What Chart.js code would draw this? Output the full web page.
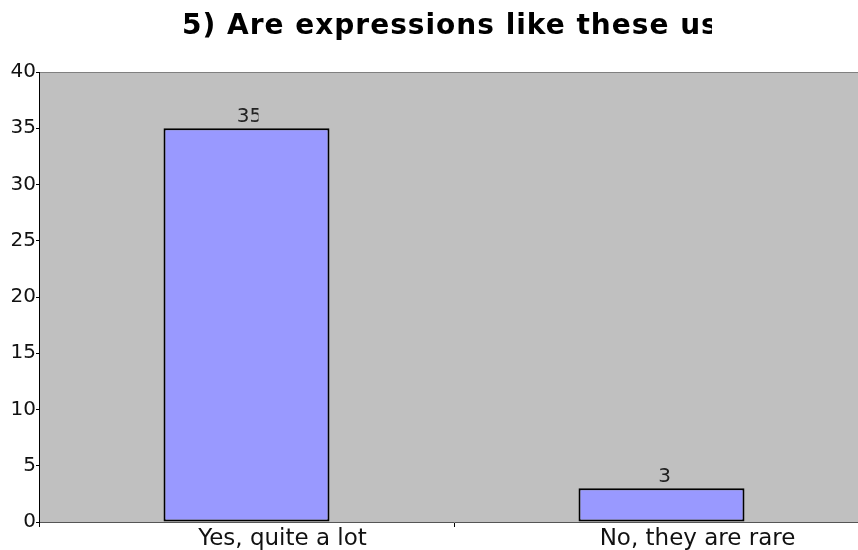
<!DOCTYPE html>
<html>
<head>
<meta charset="utf-8">
<script src="https://cdn.jsdelivr.net/npm/chart.js@4"></script>
<style>
  html, body { margin: 0; padding: 0; background: #fff; overflow: hidden; }
  #wrap { width: 870px; height: 550px; }
</style>
</head>
<body>
<div id="wrap"><canvas id="chart"></canvas></div>
<script>
const TITLE      = "5) Are expressions like these us";
const categories = ["Yes, quite a lot", "No, they are rare"];
const answers    = [35, 3];
const yTicks     = [0, 5, 10, 15, 20, 25, 30, 35, 40];

const FONT = "'DejaVu Sans', Verdana, sans-serif";

// grey plot backdrop, clipped title and value labels
const frame = {
  id: "frame",
  beforeDraw(c) {
    const { ctx, chartArea: a } = c;
    ctx.save();
    ctx.fillStyle = "#c0c0c0";
    ctx.fillRect(a.left, a.top, a.right - a.left, a.bottom - a.top);
    ctx.strokeStyle = "#808080";
    ctx.lineWidth = 1;
    ctx.beginPath();
    ctx.moveTo(a.left, a.top + 0.5);
    ctx.lineTo(a.right, a.top + 0.5);
    ctx.stroke();

    ctx.beginPath();
    ctx.rect(0, 0, 712, 60);
    ctx.clip();
    ctx.fillStyle = "#000";
    ctx.font = "bold 28px " + FONT;
    ctx.letterSpacing = "1px";
    ctx.textBaseline = "alphabetic";
    ctx.textAlign = "left";
    ctx.fillText(TITLE, 182, 34);
    ctx.restore();
  },
  afterDatasetsDraw(c) {
    const { ctx } = c;
    const meta = c.getDatasetMeta(0);
    meta.data.forEach((bar, i) => {
      ctx.save();
      ctx.beginPath();
      ctx.rect(bar.x - 40, bar.y - 30, 52, 30);
      ctx.clip();
      ctx.font = "20px " + FONT;
      ctx.fillStyle = "#222";
      ctx.textAlign = "center";
      ctx.textBaseline = "alphabetic";
      ctx.fillText(String(answers[i]), bar.x + 3, bar.y - 6);
      ctx.restore();
    });
  }
};

new Chart(document.getElementById("chart"), {
  type: "bar",
  data: {
    labels: categories,
    datasets: [{
      data: answers,
      backgroundColor: "#9999ff",
      borderColor: "#000",
      borderWidth: 2,
      borderSkipped: false,
      categoryPercentage: 1,
      barPercentage: 0.4
    }]
  },
  options: {
    responsive: true,
    maintainAspectRatio: false,
    animation: false,
    layout: { padding: { top: 72, left: 0, right: 1, bottom: 0 } },
    plugins: { legend: { display: false }, tooltip: { enabled: false } },
    scales: {
      x: {
        offset: true,
        afterFit(s) { s.height = 28; },
        border: { color: "#555", width: 1 },
        grid: { offset: true, drawOnChartArea: false, color: "#000", tickLength: 5 },
        ticks: { color: "#111", font: { family: FONT, size: 23 }, padding: -2, labelOffset: 36 }
      },
      y: {
        min: 0,
        max: 40,
        afterFit(s) { s.width = 39; },
        afterBuildTicks(s) { s.ticks = yTicks.map(v => ({ value: v })); },
        border: { color: "#000", width: 1 },
        grid: { drawOnChartArea: false, color: "#000", tickLength: 3 },
        ticks: { color: "#111", font: { family: FONT, size: 20 }, padding: 0 }
      }
    }
  },
  plugins: [frame]
});
</script>
</body>
</html>
